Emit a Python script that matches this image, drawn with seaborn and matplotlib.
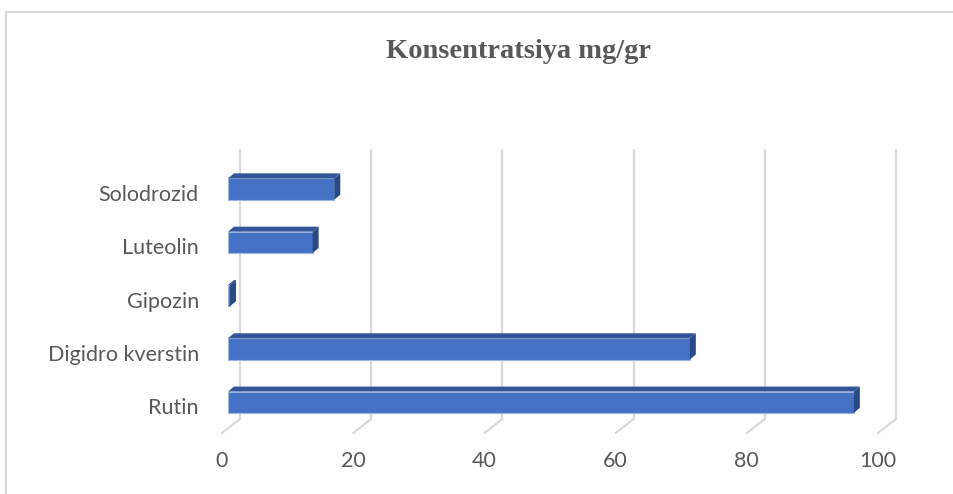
import numpy as np
import pandas as pd
import matplotlib
matplotlib.use("Agg")
import matplotlib.pyplot as plt
import matplotlib.transforms as mtransforms
from matplotlib.patches import Polygon
from matplotlib.lines import Line2D
import seaborn as sns

# ---- data ----
categories = ["Solodrozid", "Luteolin", "Gipozin", "Digidro kverstin", "Rutin"]
values = [16.2, 12.9, 0.3, 70.4, 95.4]
xticks = [0, 20, 40, 60, 80, 100]
title = "Konsentratsiya mg/gr"

df = pd.DataFrame({"name": categories, "value": values})

sns.set_theme(style="white")
plt.rcParams["font.family"] = ["Lato", "DejaVu Sans"]

W, H = 954, 494
fig = plt.figure(figsize=(W / 100, H / 100), dpi=100)
fig.patch.set_facecolor("white")

# axes placed in pixel terms
ax_left, ax_right, ax_top, ax_bottom = 228, 884, 150, 419
ax = fig.add_axes([ax_left / W, 1 - ax_bottom / H,
                   (ax_right - ax_left) / W, (ax_bottom - ax_top) / H])

front = "#4472C4"
top_col = "#33569A"
side_col = "#2A4A86"
edge_light = "#9DB5E0"

sns.barplot(data=df, y="name", x="value", order=categories, orient="h",
            color=front, width=0.4, saturation=1, ax=ax, zorder=3,
            edgecolor=edge_light, linewidth=0.8)

ax.set_xlim(0, 100)
ax.set_ylim(4.315, -0.732)
for s in ax.spines.values():
    s.set_visible(False)
ax.set_xlabel("")
ax.set_ylabel("")
ax.grid(False)

# pixel <-> data scale
p0 = ax.transData.transform((0, 0))
p1 = ax.transData.transform((1, 1))
px_x = p1[0] - p0[0]          # pixels per x unit
px_y = p1[1] - p0[1]          # pixels per y unit (negative: inverted)

def dx(px):
    return px / px_x

def dy(px):
    return px / px_y

# back wall gridlines (offset right by 12px) and floor diagonals
grid_c = "#D9D9D9"
back_off = 12
for v in xticks:
    xb = v + dx(back_off)
    ax.plot([xb, xb], [ax.get_ylim()[0], ax.get_ylim()[1]],
            color=grid_c, lw=1.6, zorder=1, clip_on=False)
    y_bottom = ax.get_ylim()[0]
    ax.plot([xb, v + dx(-6)], [y_bottom, y_bottom + dy(-14)],
            color=grid_c, lw=1.6, zorder=1, clip_on=False)

# 3D faces on each bar
ddx, ddy = 6, 5
for p in ax.patches:
    x0 = p.get_x()
    w = p.get_width()
    y0 = p.get_y()
    h = p.get_height()
    x1 = x0 + w
    ytop = min(y0, y0 + h)
    ybot = max(y0, y0 + h)
    top = Polygon([(x0, ytop), (x1, ytop),
                   (x1 + dx(ddx), ytop + dy(ddy)), (x0 + dx(ddx), ytop + dy(ddy))],
                  closed=True, facecolor=top_col, edgecolor="none", zorder=4)
    side = Polygon([(x1, ytop), (x1 + dx(ddx), ytop + dy(ddy)),
                    (x1 + dx(ddx), ybot + dy(ddy)), (x1, ybot)],
                   closed=True, facecolor=side_col, edgecolor="none", zorder=4)
    ax.add_patch(top)
    ax.add_patch(side)

# ticks
text_c = "#595959"
ax.set_xticks(xticks)
ax.set_xticklabels([str(t) for t in xticks])
ax.tick_params(axis="x", length=0, pad=23, labelsize=15.5, labelcolor=text_c)
ax.tick_params(axis="y", length=0, pad=21, labelsize=15.5, labelcolor=text_c)
off_x = mtransforms.ScaledTranslation(-6 / 100, 0, fig.dpi_scale_trans)
for lab in ax.get_xticklabels():
    lab.set_transform(lab.get_transform() + off_x)
off_y = mtransforms.ScaledTranslation(0, -4 / 100, fig.dpi_scale_trans)
for lab in ax.get_yticklabels():
    lab.set_transform(lab.get_transform() + off_y)

# title
fig.text(518 / W, 1 - 51 / H, title, ha="center", va="center",
         fontsize=20.5, fontweight="bold", color=text_c,
         family=["Liberation Serif", "DejaVu Serif"])

# chart border (top and left visible)
fig.add_artist(Line2D([6 / W, 1.0], [1 - 12.5 / H, 1 - 12.5 / H],
                      transform=fig.transFigure, color="#D9D9D9", lw=1.5))
fig.add_artist(Line2D([6.5 / W, 6.5 / W], [0, 1 - 12.5 / H],
                      transform=fig.transFigure, color="#D9D9D9", lw=1.5))

fig.savefig("out.png", dpi=100, facecolor="white")
